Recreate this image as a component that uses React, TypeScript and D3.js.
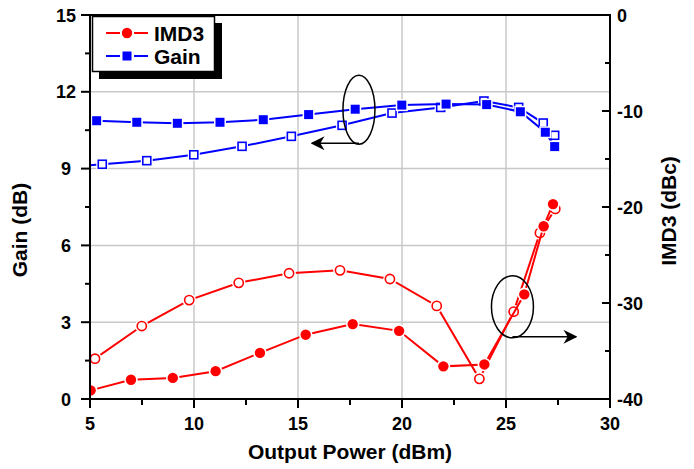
import React from "react";
import * as d3 from "d3";

// Output power (dBm) and values for each series
const imdFilledP = [5.03, 6.97, 8.98, 11.04, 13.17, 15.37, 17.63, 19.86, 21.99, 23.96, 25.88, 26.81, 27.26];
const imdFilledV = [-39.1, -38.0, -37.8, -37.1, -35.2, -33.3, -32.2, -32.9, -36.6, -36.4, -29.1, -22.0, -19.7];
const imdHollowP = [4.5, 5.24, 7.49, 9.77, 12.15, 14.57, 17.02, 19.42, 21.67, 23.72, 25.37, 26.63, 27.37];
const imdHollowV = [-37.0, -35.8, -32.4, -29.7, -27.9, -26.9, -26.6, -27.5, -30.3, -37.9, -30.9, -22.7, -20.2];
const gainFilledP = [5.32, 7.25, 9.2, 11.25, 13.33, 15.51, 17.75, 19.99, 22.12, 24.07, 25.69, 26.89, 27.34];
const gainFilledV = [10.87, 10.81, 10.77, 10.81, 10.91, 11.11, 11.32, 11.48, 11.52, 11.5, 11.22, 10.42, 9.86];
const gainHollowP = [4.5, 5.59, 7.73, 9.99, 12.31, 14.68, 17.12, 19.52, 21.86, 23.94, 25.61, 26.79, 27.34];
const gainHollowV = [9.1, 9.17, 9.31, 9.54, 9.87, 10.26, 10.69, 11.17, 11.39, 11.64, 11.39, 10.78, 10.3];

const xTicks = [5, 10, 15, 20, 25, 30];
const xMinor = [7.5, 12.5, 17.5, 22.5, 27.5];
const gainTicks = [0, 3, 6, 9, 12, 15];
const gainMinor = [1.5, 4.5, 7.5, 10.5, 13.5];
const imdTicks = [0, -10, -20, -30, -40];
const imdMinor = [-5, -15, -25, -35];
const legendLabels = ["IMD3", "Gain"];

const RED = "#ff0000";
const BLUE = "#0000ff";
const FONT = "'Liberation Sans', Arial, sans-serif";

export default function App() {
  const x = d3.scaleLinear().domain([5, 30]).range([90, 610]);
  const yG = d3.scaleLinear().domain([0, 15]).range([399, 15]);
  const yI = d3.scaleLinear().domain([-40, 0]).range([399, 15]);
  const line = d3.line<[number, number]>().x((d) => d[0]).y((d) => d[1]);

  const pts = (P: number[], V: number[], ys: d3.ScaleLinear<number, number>) =>
    P.map((p, i) => [x(p), ys(V[i])] as [number, number]);

  const imdF = pts(imdFilledP, imdFilledV, yI);
  const imdH = pts(imdHollowP, imdHollowV, yI);
  const gF = pts(gainFilledP, gainFilledV, yG);
  const gH = pts(gainHollowP, gainHollowV, yG);

  const circle = (p: [number, number], filled: boolean, k: string) => (
    <g key={k}>
      <circle cx={p[0]} cy={p[1]} r={6.8} fill="white" />
      <circle cx={p[0]} cy={p[1]} r={filled ? 5.2 : 4.6} fill={filled ? RED : "white"} stroke={RED} strokeWidth={filled ? 0 : 1.6} />
    </g>
  );
  const square = (p: [number, number], filled: boolean, k: string) => (
    <g key={k}>
      <rect x={p[0] - 6} y={p[1] - 6} width={12} height={12} fill="white" />
      {filled ? (
        <rect x={p[0] - 4.5} y={p[1] - 4.5} width={9} height={9} fill={BLUE} />
      ) : (
        <rect x={p[0] - 4} y={p[1] - 4} width={8} height={8} fill="white" stroke={BLUE} strokeWidth={1.6} />
      )}
    </g>
  );

  // annotation positions in data space
  const gainEl = { cx: x(17.93), cy: yG(11.3), rx: 16, ry: 34.5 };
  const imdEl = { cx: x(25.31), cy: yI(-30.4), rx: 21, ry: 31 };

  return (
    <svg width={694} height={469} style={{ position: "fixed", left: 0, top: 0, background: "white" }} fontFamily={FONT}>
      <defs>
        <clipPath id="plot">
          <rect x={90} y={15} width={520} height={384} />
        </clipPath>
        <marker id="arr" viewBox="0 0 10 10" refX={9} refY={5} markerWidth={14} markerHeight={14} markerUnits="userSpaceOnUse" orient="auto">
          <path d="M0,0 L10,5 L0,10 L3,5 Z" fill="black" />
        </marker>
      </defs>
      <rect width={694} height={469} fill="white" />
      {/* grid */}
      {xTicks.slice(1, -1).map((t) => (
        <line key={"gx" + t} x1={x(t)} x2={x(t)} y1={15} y2={399} stroke="#c8c8c8" strokeWidth={1.5} />
      ))}
      {gainTicks.slice(1, -1).map((t) => (
        <line key={"gy" + t} x1={90} x2={610} y1={yG(t)} y2={yG(t)} stroke="#c8c8c8" strokeWidth={1.5} />
      ))}

      {/* series */}
      <g clipPath="url(#plot)">
        <path d={line(imdH) || ""} fill="none" stroke={RED} strokeWidth={2} />
        {imdH.map((p, i) => circle(p, false, "ih" + i))}
        <path d={line(imdF) || ""} fill="none" stroke={RED} strokeWidth={2} />
        {imdF.map((p, i) => circle(p, true, "if" + i))}
        <path d={line(gH) || ""} fill="none" stroke={BLUE} strokeWidth={2} />
        {gH.map((p, i) => square(p, false, "gh" + i))}
        <path d={line(gF) || ""} fill="none" stroke={BLUE} strokeWidth={2} />
        {gF.map((p, i) => square(p, true, "gf" + i))}
      </g>

      {/* annotations */}
      <ellipse cx={gainEl.cx} cy={gainEl.cy} rx={gainEl.rx} ry={gainEl.ry} fill="none" stroke="black" strokeWidth={1.5} />
      <line x1={gainEl.cx} y1={gainEl.cy + gainEl.ry - 1} x2={x(15.67)} y2={gainEl.cy + gainEl.ry - 1} stroke="black" strokeWidth={1.5} markerEnd="url(#arr)" />
      <ellipse cx={imdEl.cx} cy={imdEl.cy} rx={imdEl.rx} ry={imdEl.ry} fill="none" stroke="black" strokeWidth={1.5} />
      <line x1={imdEl.cx} y1={imdEl.cy + imdEl.ry - 1} x2={x(28.37)} y2={imdEl.cy + imdEl.ry - 1} stroke="black" strokeWidth={1.5} markerEnd="url(#arr)" />

      {/* frame */}
      <rect x={90} y={15} width={520} height={384} fill="none" stroke="black" strokeWidth={2} />

      {/* bottom axis */}
      {xTicks.map((t) => (
        <g key={"xt" + t}>
          <line x1={x(t)} x2={x(t)} y1={399} y2={408} stroke="black" strokeWidth={2} />
          <text x={x(t)} y={430} textAnchor="middle" fontSize={18} fontWeight="bold">{t}</text>
        </g>
      ))}
      {xMinor.map((t) => (
        <line key={"xm" + t} x1={x(t)} x2={x(t)} y1={399} y2={405} stroke="black" strokeWidth={2} />
      ))}
      {/* left axis */}
      {gainTicks.map((t) => (
        <g key={"yt" + t}>
          <line x1={81} x2={90} y1={yG(t)} y2={yG(t)} stroke="black" strokeWidth={2} />
          <text x={66} y={yG(t) + 6.5} textAnchor="middle" fontSize={18} fontWeight="bold">{t}</text>
        </g>
      ))}
      {gainMinor.map((t) => (
        <line key={"ym" + t} x1={85} x2={90} y1={yG(t)} y2={yG(t)} stroke="black" strokeWidth={2} />
      ))}
      {/* right axis */}
      {imdTicks.map((t) => (
        <g key={"it" + t}>
          <line x1={602} x2={610} y1={yI(t)} y2={yI(t)} stroke="black" strokeWidth={2} />
          <text x={617} y={yI(t) + 6.5} textAnchor="start" fontSize={18} fontWeight="bold">{t}</text>
        </g>
      ))}
      {imdMinor.map((t) => (
        <line key={"im" + t} x1={605} x2={610} y1={yI(t)} y2={yI(t)} stroke="black" strokeWidth={2} />
      ))}

      {/* axis titles */}
      <text x={350} y={459} textAnchor="middle" fontSize={21} fontWeight="bold">Output Power (dBm)</text>
      <text transform="translate(27,230) rotate(-90)" textAnchor="middle" fontSize={21} fontWeight="bold">Gain (dB)</text>
      <text transform="translate(676,211) rotate(-90)" textAnchor="middle" fontSize={21} fontWeight="bold">IMD3 (dBc)</text>

      {/* legend */}
      <rect x={99} y={23} width={123} height={56} fill="black" />
      <rect x={92.5} y={16.5} width={122} height={55} fill="white" stroke="black" strokeWidth={1.5} />
      {legendLabels.map((lab, i) => {
        const ly = 33 + i * 23;
        const c = i === 0 ? RED : BLUE;
        return (
          <g key={lab}>
            <line x1={106} x2={120} y1={ly} y2={ly} stroke={c} strokeWidth={2} />
            <line x1={134} x2={148} y1={ly} y2={ly} stroke={c} strokeWidth={2} />
            {i === 0 ? (
              <circle cx={127} cy={ly} r={5.2} fill={RED} />
            ) : (
              <rect x={122.5} y={ly - 4.5} width={9} height={9} fill={BLUE} />
            )}
            <text x={154} y={ly + 7.5} fontSize={21} fontWeight="bold">{lab}</text>
          </g>
        );
      })}
    </svg>
  );
}
